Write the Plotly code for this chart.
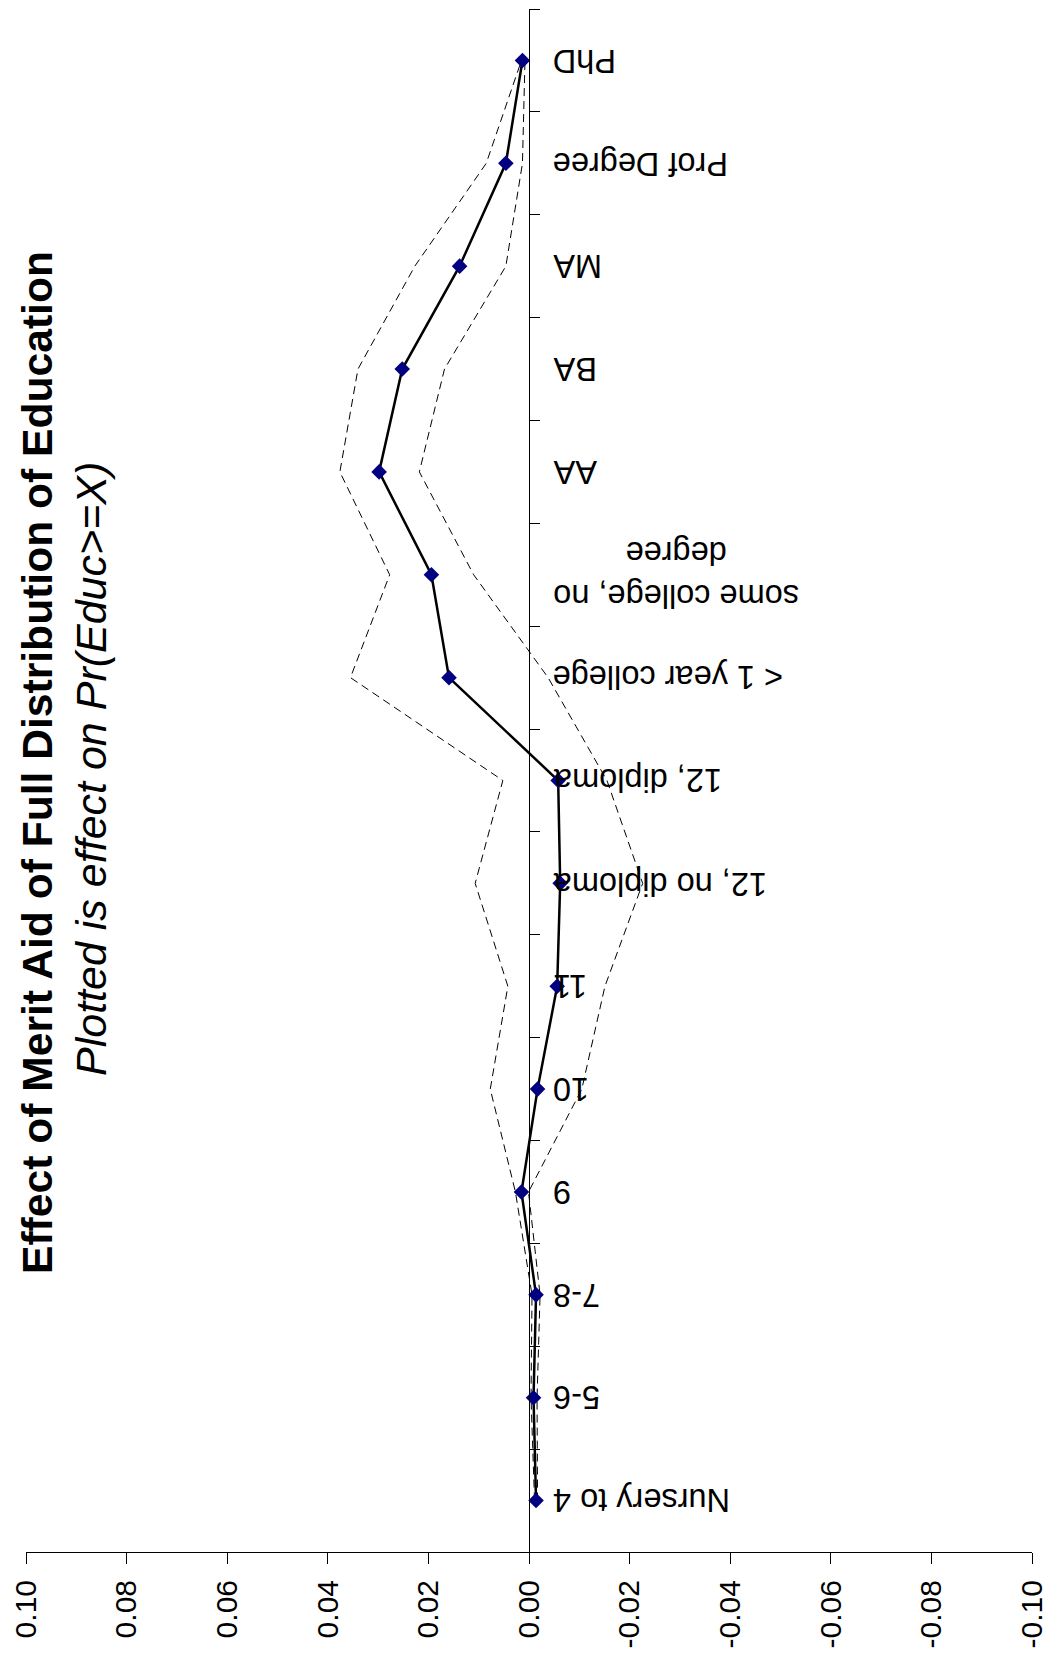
import plotly.graph_objects as go

categories = ["Nursery to 4", "5-6", "7-8", "9", "10", "11", "12, no diploma",
              "12, diploma", "< 1 year college", "some college, no<br>degree",
              "AA", "BA", "MA", "Prof Degree", "PhD"]
effect = [-0.0014, -0.0009, -0.0014, 0.0015, -0.0017, -0.0056, -0.0062,
          -0.0058, 0.0159, 0.0194, 0.0298, 0.0252, 0.0138, 0.0046, 0.0013]
upper = [-0.0011, -0.0004, -0.0006, 0.0027, 0.0077, 0.0042, 0.0107,
         0.0052, 0.0355, 0.0277, 0.0376, 0.0340, 0.0227, 0.0085, 0.0015]
lower = [-0.0017, -0.0016, -0.0022, 0.0001, -0.0105, -0.0151, -0.0226,
         -0.0155, -0.0038, 0.0110, 0.0218, 0.0168, 0.0046, 0.0013, 0.0008]
tick_vals = [0.10, 0.08, 0.06, 0.04, 0.02, 0.00, -0.02, -0.04, -0.06, -0.08, -0.10]
tick_text = ["0.10", "0.08", "0.06", "0.04", "0.02", "0.00", "-0.02", "-0.04", "-0.06", "-0.08", "-0.10"]

title_text = "Effect of Merit Aid of Full Distribution of Education"
subtitle_text = "Plotted is effect on Pr(Educ>=X)"

FONT = "Liberation Sans, Arial, sans-serif"
BODY = 8  # default page body margin
W, H = 1053 - BODY, 1660 - BODY
ML, MR, MT, MB = 18, 21, 1, 108

fig = go.Figure()
for band in (upper, lower):
    fig.add_trace(go.Scatter(
        x=band, y=categories, mode="lines",
        line=dict(color="black", width=1, dash="8px,5px"),
        hoverinfo="skip", showlegend=False))
fig.add_trace(go.Scatter(
    x=effect, y=categories, mode="lines+markers",
    line=dict(color="black", width=2.5),
    marker=dict(symbol="diamond", color="#000080", size=12, line=dict(width=0)),
    showlegend=False))

for i, c in enumerate(categories):
    fig.add_annotation(
        x=0, y=i, xref="x", yref="y", text=c, showarrow=False,
        xanchor="left", yanchor="middle", xshift=22, textangle=180,
        align="center", font=dict(family=FONT, size=32.5, color="black"))

pw = W - ML - MR
ph = H - MT - MB
def page_to_paper_x(px):
    return (px - BODY - ML) / pw
def page_to_paper_y(py):
    return 1 - (py - BODY - MT) / ph

fig.add_annotation(
    x=page_to_paper_x(37), y=page_to_paper_y(763), xref="paper", yref="paper",
    text="<b>" + title_text + "</b>", showarrow=False, textangle=-90,
    xanchor="center", yanchor="middle",
    font=dict(family=FONT, size=42.6, color="black"))
fig.add_annotation(
    x=page_to_paper_x(91), y=page_to_paper_y(769), xref="paper", yref="paper",
    text="<i>" + subtitle_text + "</i>", showarrow=False, textangle=-90,
    xanchor="center", yanchor="middle",
    font=dict(family=FONT, size=43, color="black"))

fig.update_layout(
    width=W, height=H,
    margin=dict(l=ML, r=MR, t=MT, b=MB, pad=0),
    paper_bgcolor="white", plot_bgcolor="white",
    showlegend=False,
    xaxis=dict(
        range=[0.10, -0.10], tickmode="array", tickvals=tick_vals, ticktext=tick_text,
        tickangle=-90, ticks="outside", ticklen=11, tickcolor="black", tickwidth=1,
        ticklabelstandoff=4,
        showline=True, linecolor="black", linewidth=1, showgrid=False, zeroline=False,
        tickfont=dict(family=FONT, size=30, color="black"), fixedrange=True),
    yaxis=dict(
        type="category", categoryorder="array", categoryarray=categories,
        range=[-0.5, len(categories) - 0.5], anchor="free", position=0.5, side="right",
        ticks="outside", tickson="boundaries", ticklen=10, tickcolor="black",
        showticklabels=False, showline=True, linecolor="black", linewidth=1,
        showgrid=False, zeroline=False, fixedrange=True),
)

fig.write_html("out.html")
